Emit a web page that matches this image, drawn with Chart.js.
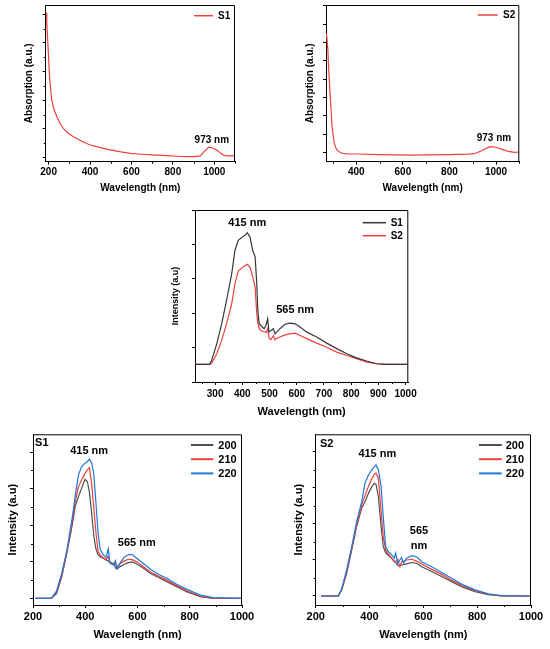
<!DOCTYPE html>
<html>
<head>
<meta charset="utf-8">
<script src="https://cdn.jsdelivr.net/npm/chart.js@4.4.1/dist/chart.umd.min.js"></script>
<style>
html, body { margin: 0; padding: 0; background: #fff; }
body { width: 550px; height: 649px; position: relative; overflow: hidden; }
canvas { position: absolute; }
</style>
</head>
<body>
<canvas id="abs1" width="275" height="200" style="left:0px;top:0px"></canvas>
<canvas id="abs2" width="275" height="200" style="left:275px;top:0px"></canvas>
<canvas id="pl" width="290" height="225" style="left:140px;top:200px"></canvas>
<canvas id="plS1" width="275" height="229" style="left:0px;top:420px"></canvas>
<canvas id="plS2" width="275" height="229" style="left:275px;top:420px"></canvas>
<script>
// absorption spectra (a.u.)
var absWl1 = [188, 191, 194, 199, 202, 207, 215, 227, 240, 255, 271, 295, 320, 360, 400, 450, 497, 550, 594, 650, 700, 771, 820, 867, 900, 932, 950, 973, 995, 1012, 1030, 1044, 1060, 1077, 1100];
var absS1 = [5.05, 4.75, 4.33, 3.64, 3.17, 2.59, 2.01, 1.66, 1.43, 1.2, 1.02, 0.85, 0.73, 0.57, 0.44, 0.35, 0.27, 0.2, 0.15, 0.12, 0.1, 0.07, 0.05, 0.035, 0.04, 0.06, 0.2, 0.37, 0.33, 0.27, 0.16, 0.09, 0.06, 0.06, 0.07];
var absWl2 = [272, 278, 281, 285, 289, 293, 296, 301, 306, 311, 317, 328, 339, 360, 403, 500, 631, 700, 800, 880, 910, 940, 974, 1000, 1030, 1052, 1080, 1100];
var absS2 = [6.5, 5.6, 4.68, 3.8, 2.86, 2.1, 1.4, 0.9, 0.49, 0.28, 0.13, 0.02, -0.05, -0.08, -0.09, -0.12, -0.15, -0.14, -0.12, -0.1, -0.06, 0.1, 0.31, 0.28, 0.15, 0.05, 0.0, 0.02];

// PL spectra S1 vs S2
var plWl = [226, 280, 287, 306, 324, 342, 361, 373, 385, 398, 410, 418, 428, 438, 447, 453, 457, 462, 471, 480, 487, 493, 498, 505, 514, 520, 526, 538, 557, 575, 594, 612, 637, 673, 710, 747, 784, 820, 857, 894, 931, 1010];
var plS1 = [0, 0, 0.12, 0.60, 1.18, 1.86, 2.64, 3.32, 3.61, 3.69, 3.76, 3.83, 3.71, 3.32, 3.13, 2.35, 1.57, 1.18, 1.11, 1.04, 1.14, 1.33, 0.94, 0.99, 1.04, 0.89, 0.94, 1.04, 1.17, 1.20, 1.18, 1.09, 0.94, 0.80, 0.62, 0.46, 0.31, 0.19, 0.10, 0.02, 0, 0];
var plS2 = [0, 0, 0.04, 0.31, 0.70, 1.18, 1.77, 2.35, 2.72, 2.80, 2.87, 2.91, 2.83, 2.55, 2.25, 1.48, 1.20, 1.05, 0.97, 0.95, 0.93, 1.04, 0.78, 0.72, 0.84, 0.72, 0.76, 0.80, 0.86, 0.89, 0.91, 0.84, 0.75, 0.62, 0.50, 0.36, 0.26, 0.17, 0.07, 0.02, 0, 0];

// S1 at three excitation wavelengths
var s1Wl = [210, 270, 290, 310, 330, 350, 362, 374, 386, 399, 408, 416, 425, 433, 441, 449, 457, 468, 480, 488, 495, 503, 510, 515, 521, 533, 548, 565, 580, 597, 620, 650, 680, 712, 750, 790, 840, 890, 1000];
var s1Ex200 = [0, 0, 0.13, 0.59, 1.25, 2.0, 2.53, 2.79, 3.01, 3.26, 3.20, 2.90, 2.30, 1.70, 1.35, 1.20, 1.14, 1.10, 1.05, 1.02, 0.99, 0.97, 0.95, 0.85, 0.80, 0.87, 0.93, 0.98, 1.0, 0.94, 0.84, 0.68, 0.57, 0.46, 0.32, 0.18, 0.05, 0, 0];
var s1Ex210 = [0, 0, 0.17, 0.64, 1.29, 2.1, 2.66, 3.06, 3.24, 3.42, 3.52, 3.58, 3.1, 2.45, 1.8, 1.3, 1.18, 1.12, 1.06, 1.15, 0.98, 0.95, 0.93, 1.02, 0.86, 0.95, 1.02, 1.07, 1.06, 1.0, 0.88, 0.72, 0.61, 0.50, 0.35, 0.21, 0.06, 0, 0];
var s1Ex220 = [0, 0, 0.2, 0.68, 1.33, 2.2, 2.82, 3.38, 3.61, 3.70, 3.74, 3.81, 3.70, 3.38, 2.6, 1.8, 1.35, 1.2, 1.12, 1.35, 0.96, 0.93, 0.91, 1.02, 0.82, 0.96, 1.12, 1.2, 1.2, 1.1, 0.97, 0.80, 0.66, 0.55, 0.39, 0.25, 0.09, 0.02, 0];

// S2 at three excitation wavelengths
var s2Wl = [220, 284, 297, 315, 334, 352, 371, 383, 396, 408, 418, 424, 433, 443, 451, 460, 470, 482, 492, 497, 505, 513, 519, 526, 538, 557, 575, 594, 631, 668, 705, 742, 792, 841, 891, 1000];
var s2Ex200 = [0, 0, 0.17, 0.63, 1.28, 1.93, 2.44, 2.62, 2.85, 3.03, 3.13, 3.10, 2.75, 1.93, 1.37, 1.20, 1.13, 1.05, 0.95, 0.93, 0.85, 0.84, 0.86, 0.87, 0.89, 0.93, 0.91, 0.81, 0.68, 0.54, 0.40, 0.26, 0.12, 0.04, 0, 0];
var s2Ex210 = [0, 0, 0.19, 0.68, 1.32, 1.97, 2.53, 2.78, 3.05, 3.25, 3.38, 3.41, 3.27, 2.35, 1.65, 1.28, 1.17, 1.05, 0.97, 0.95, 1.02, 0.81, 0.95, 0.97, 1.0, 1.02, 0.97, 0.89, 0.74, 0.60, 0.44, 0.29, 0.15, 0.05, 0, 0];
var s2Ex220 = [0, 0, 0.21, 0.72, 1.37, 2.06, 2.62, 3.13, 3.36, 3.50, 3.59, 3.64, 3.50, 3.04, 2.20, 1.37, 1.23, 1.14, 1.05, 1.19, 0.91, 1.0, 1.07, 0.91, 1.05, 1.12, 1.09, 0.95, 0.81, 0.65, 0.49, 0.33, 0.17, 0.06, 0.01, 0];

var exLabels = ['200', '210', '220'];

// x tick labels of each panel
var absTicks1 = [200, 400, 600, 800, 1000];
var absTicks2 = [400, 600, 800, 1000];
var plTicks = [300, 400, 500, 600, 700, 800, 900, 1000];
var exTicks = [200, 400, 600, 800, 1000];

var FONT = "'Liberation Sans', Arial, Helvetica, sans-serif";
var RED = 'rgb(240,62,62)';
var GREY = 'rgb(80,80,80)';
var BLUE = 'rgb(30,120,215)';

// box round the plot (top and right sides)
var frame = {
    id: 'frame',
    afterDraw: function (chart) {
        var a = chart.chartArea, ctx = chart.ctx;
        ctx.save();
        ctx.strokeStyle = '#000';
        ctx.lineWidth = 1;
        ctx.beginPath();
        ctx.moveTo(a.left, a.top + 0.5);
        ctx.lineTo(a.right - 0.5, a.top + 0.5);
        ctx.lineTo(a.right - 0.5, a.bottom);
        ctx.stroke();
        ctx.restore();
    }
};

// short ticks between the labelled ones
var minorTicks = {
    id: 'minorTicks',
    afterDraw: function (chart, args, opts) {
        var a = chart.chartArea, ctx = chart.ctx;
        ctx.save();
        ctx.strokeStyle = '#000';
        ctx.lineWidth = 1;
        ['x', 'y'].forEach(function (k) {
            var step = opts[k];
            if (!step) return;
            var s = chart.scales[k];
            var major = s.options.ticks.stepSize;
            var n0 = Math.ceil(s.min / step), n1 = Math.floor(s.max / step);
            for (var n = n0; n <= n1; n++) {
                var v = n * step;
                var r = v / major;
                if (Math.abs(r - Math.round(r)) < 1e-6) continue;
                var p = Math.round(s.getPixelForValue(v)) + 0.5;
                ctx.beginPath();
                if (k === 'x') {
                    ctx.moveTo(p, a.bottom);
                    ctx.lineTo(p, a.bottom + opts.len);
                } else {
                    ctx.moveTo(a.left, p);
                    ctx.lineTo(a.left - opts.len, p);
                }
                ctx.stroke();
            }
        });
        ctx.restore();
    }
};

// legend drawn inside the plot, top right
var inLegend = {
    id: 'inLegend',
    afterDraw: function (chart, args, o) {
        var a = chart.chartArea, ctx = chart.ctx;
        ctx.save();
        ctx.font = 'bold ' + o.size + 'px ' + FONT;
        ctx.textBaseline = 'middle';
        ctx.textAlign = 'left';
        chart.data.datasets.forEach(function (ds, i) {
            var y = a.top + o.top + i * o.row;
            var x = a.right - o.right;
            ctx.strokeStyle = ds.borderColor;
            ctx.lineWidth = o.width;
            ctx.beginPath();
            ctx.moveTo(x, y);
            ctx.lineTo(x + o.len, y);
            ctx.stroke();
            ctx.fillStyle = '#000';
            ctx.fillText(ds.label, x + o.len + o.gap, y + 0.5);
        });
        ctx.restore();
    }
};

// peak labels, placed in data units
var notes = {
    id: 'notes',
    afterDraw: function (chart, args, o) {
        var ctx = chart.ctx, sx = chart.scales.x, sy = chart.scales.y;
        ctx.save();
        ctx.font = 'bold ' + o.size + 'px ' + FONT;
        ctx.fillStyle = '#000';
        ctx.textBaseline = 'middle';
        o.items.forEach(function (it) {
            ctx.textAlign = it.align || 'center';
            ctx.fillText(it.t, sx.getPixelForValue(it.x), sy.getPixelForValue(it.y));
        });
        ctx.restore();
    }
};

function pts(xs, ys) {
    return xs.map(function (x, i) { return {x: x, y: ys[i]}; });
}

function panel(id, p) {
    var ctx = document.getElementById(id).getContext('2d');
    return new Chart(ctx, {
        type: 'line',
        data: {
            datasets: p.series.map(function (s) {
                return {
                    label: s.label,
                    data: pts(s.x, s.y),
                    borderColor: s.color,
                    borderWidth: 1.2,
                    pointRadius: 0,
                    tension: 0,
                    fill: false,
                    order: s.order || 0
                };
            })
        },
        options: {
            responsive: false,
            animation: false,
            layout: {padding: {left: 0, top: p.top, right: p.right, bottom: 0}},
            plugins: {
                legend: {display: false},
                tooltip: {enabled: false},
                inLegend: p.legend,
                notes: p.notes,
                minorTicks: p.minor
            },
            scales: {
                x: {
                    type: 'linear',
                    min: p.xmin,
                    max: p.xmax,
                    afterBuildTicks: function (s) {
                        s.ticks = p.xticks.map(function (v) { return {value: v}; });
                    },
                    afterFit: function (s) { s.height = p.xh; },
                    border: {color: '#000', width: 1},
                    grid: {drawOnChartArea: false, tickLength: 3, tickColor: '#000'},
                    ticks: {
                        stepSize: p.xstep, autoSkip: false, maxRotation: 0,
                        color: '#000', padding: p.tickPad,
                        font: {family: FONT, weight: 'bold', size: p.tickSize},
                        callback: function (v) { return String(v); }
                    },
                    title: {
                        display: true, text: 'Wavelength (nm)', color: '#000',
                        padding: {top: 0, bottom: p.xTitlePad},
                        font: {family: FONT, weight: 'bold', size: p.titleSize}
                    }
                },
                y: {
                    type: 'linear',
                    min: p.ymin,
                    max: p.ymax,
                    afterFit: function (s) { s.width = p.yw; },
                    border: {color: '#000', width: 1},
                    grid: {drawOnChartArea: false, tickLength: 3, tickColor: '#000'},
                    ticks: {stepSize: 1, display: false, includeBounds: false},
                    title: {
                        display: true, text: p.ytitle, color: '#000',
                        padding: {top: p.yTitlePad, bottom: 0},
                        font: {family: FONT, weight: 'bold', size: p.ytitleSize || p.titleSize}
                    }
                }
            }
        },
        plugins: [frame, minorTicks, inLegend, notes]
    });
}

panel('abs1', {
    series: [{label: 'S1', x: absWl1, y: absS1, color: RED}],
    xmin: 186, xmax: 1100, xstep: 200, xticks: absTicks1, ymin: -0.14, ymax: 5.32,
    top: 5, right: 40, yw: 45.7, xh: 38.3,
    tickSize: 10, tickPad: 1.3, titleSize: 10, xTitlePad: 6, yTitlePad: 23,
    ytitle: 'Absorption (a.u.)',
    minor: {x: 100, y: 0.5, len: 2},
    legend: {right: 41, top: 10.7, row: 13, len: 19, gap: 5, size: 10, width: 1.5},
    notes: {size: 10, items: [{t: '973 nm', x: 988, y: 0.62}]}
});

panel('abs2', {
    series: [{label: 'S2', x: absWl2, y: absS2, color: RED}],
    xmin: 270, xmax: 1100, xstep: 200, xticks: absTicks2, ymin: -0.51, ymax: 8.05,
    top: 5, right: 30.7, yw: 51, xh: 38.3,
    tickSize: 10, tickPad: 1.3, titleSize: 10, xTitlePad: 5.7, yTitlePad: 29,
    ytitle: 'Absorption (a.u.)',
    minor: {x: 100, len: 2},
    legend: {right: 41.6, top: 10, row: 13, len: 20, gap: 5.3, size: 10, width: 1.5},
    notes: {size: 10, items: [{t: '973 nm', x: 991, y: 0.77}]}
});

panel('pl', {
    series: [
        {label: 'S1', x: plWl, y: plS1, color: 'rgb(55,55,55)'},
        {label: 'S2', x: plWl, y: plS2, color: RED}
    ],
    xmin: 226, xmax: 1010, xstep: 100, xticks: plTicks, ymin: -0.51, ymax: 4.49,
    top: 10, right: 21.7, yw: 55, xh: 43,
    tickSize: 10, tickPad: 3, titleSize: 11, ytitleSize: 9, xTitlePad: 6.1, yTitlePad: 30.6,
    ytitle: 'Intensity (a.u)',
    minor: {x: 50, len: 2},
    legend: {right: 45.6, top: 12.7, row: 13, len: 23.3, gap: 4.7, size: 10, width: 1.5},
    notes: {size: 11, items: [{t: '415 nm', x: 418, y: 4.12}, {t: '565 nm', x: 594, y: 1.59}]}
});

panel('plS1', {
    series: [
        {label: exLabels[0], x: s1Wl, y: s1Ex200, color: GREY, order: 2},
        {label: exLabels[1], x: s1Wl, y: s1Ex210, color: RED, order: 1},
        {label: exLabels[2], x: s1Wl, y: s1Ex220, color: BLUE, order: 0}
    ],
    xmin: 200, xmax: 1000, xstep: 200, xticks: exTicks, ymin: -0.18, ymax: 4.49,
    top: 14.3, right: 33, yw: 33, xh: 44,
    tickSize: 11, tickPad: 2.1, titleSize: 11, xTitlePad: 7.4, yTitlePad: 6.7,
    ytitle: 'Intensity (a.u)',
    minor: {x: 100, y: 0.5, len: 2},
    legend: {right: 51, top: 10.7, row: 14.2, len: 22.3, gap: 5, size: 11, width: 2},
    notes: {size: 11, items: [
        {t: 'S1', x: 208, y: 4.25, align: 'left'},
        {t: '415 nm', x: 415, y: 4.04},
        {t: '565 nm', x: 597, y: 1.51}
    ]}
});

panel('plS2', {
    series: [
        {label: exLabels[0], x: s2Wl, y: s2Ex200, color: GREY, order: 2},
        {label: exLabels[1], x: s2Wl, y: s2Ex210, color: RED, order: 1},
        {label: exLabels[2], x: s2Wl, y: s2Ex220, color: BLUE, order: 0}
    ],
    xmin: 200, xmax: 1000, xstep: 200, xticks: exTicks, ymin: -0.25, ymax: 4.49,
    top: 14.3, right: 19, yw: 40.7, xh: 44,
    tickSize: 11, tickPad: 2.1, titleSize: 11, xTitlePad: 7.4, yTitlePad: 17.4,
    ytitle: 'Intensity (a.u)',
    minor: {x: 100, y: 0.5, len: 2},
    legend: {right: 52, top: 10.7, row: 14.2, len: 22.7, gap: 4, size: 11, width: 2},
    notes: {size: 11, items: [
        {t: 'S2', x: 216, y: 4.22, align: 'left'},
        {t: '415 nm', x: 429, y: 3.94},
        {t: '565', x: 584, y: 1.81},
        {t: 'nm', x: 584, y: 1.39}
    ]}
});
</script>
</body>
</html>
